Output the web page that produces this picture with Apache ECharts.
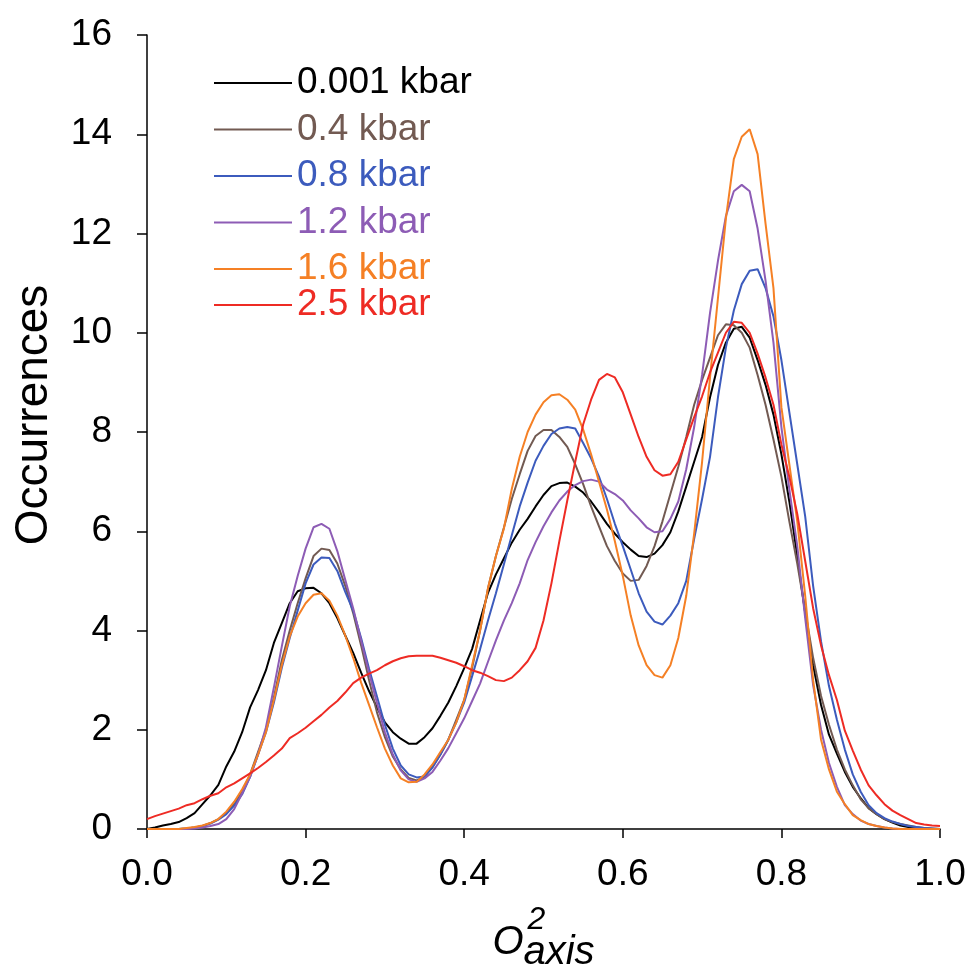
<!DOCTYPE html>
<html>
<head>
<meta charset="utf-8">
<script src="https://cdn.jsdelivr.net/npm/echarts@6/dist/echarts.min.js"></script>
<style>
  html, body { margin: 0; padding: 0; background: #ffffff; }
  #chart { width: 975px; height: 974px; }
</style>
</head>
<body>
<div id="chart"></div>
<script>
// bin positions (O_axis^2)
const xs = [
  0.00, 0.01, 0.02, 0.03, 0.04, 0.05, 0.06, 0.07, 0.08, 0.09,
  0.10, 0.11, 0.12, 0.13, 0.14, 0.15, 0.16, 0.17, 0.18, 0.19,
  0.20, 0.21, 0.22, 0.23, 0.24, 0.25, 0.26, 0.27, 0.28, 0.29,
  0.30, 0.31, 0.32, 0.33, 0.34, 0.35, 0.36, 0.37, 0.38, 0.39,
  0.40, 0.41, 0.42, 0.43, 0.44, 0.45, 0.46, 0.47, 0.48, 0.49,
  0.50, 0.51, 0.52, 0.53, 0.54, 0.55, 0.56, 0.57, 0.58, 0.59,
  0.60, 0.61, 0.62, 0.63, 0.64, 0.65, 0.66, 0.67, 0.68, 0.69,
  0.70, 0.71, 0.72, 0.73, 0.74, 0.75, 0.76, 0.77, 0.78, 0.79,
  0.80, 0.81, 0.82, 0.83, 0.84, 0.85, 0.86, 0.87, 0.88, 0.89,
  0.90, 0.91, 0.92, 0.93, 0.94, 0.95, 0.96, 0.97, 0.98, 0.99,
  1.00
];

// occurrences per pressure
const p0001 = [
  0, 0.03, 0.07, 0.1, 0.14, 0.22, 0.32, 0.5, 0.68, 0.89,
  1.26, 1.56, 1.95, 2.45, 2.8, 3.2, 3.75, 4.15, 4.55, 4.79,
  4.85, 4.86, 4.75, 4.55, 4.25, 3.9, 3.55, 3.15, 2.78, 2.45,
  2.15, 1.95, 1.82, 1.72, 1.72, 1.85, 2.03, 2.28, 2.55, 2.88,
  3.24, 3.63, 4.2, 4.76, 5.13, 5.45, 5.77, 6.03, 6.25, 6.5,
  6.73, 6.91, 6.97, 6.98, 6.9, 6.78, 6.6, 6.38, 6.15, 5.95,
  5.78, 5.63, 5.5, 5.48, 5.55, 5.72, 5.98, 6.4, 6.9, 7.4,
  7.9, 8.7, 9.35, 9.8, 10.08, 10.12, 9.9, 9.45, 8.95, 8.35,
  7.55, 6.6, 5.5, 4.35, 3.3, 2.5, 1.9, 1.52, 1.15, 0.85,
  0.62, 0.42, 0.3, 0.2, 0.13, 0.07, 0.04, 0.02, 0.01, 0,
  0
];
const p04 = [
  0, 0, 0, 0, 0, 0.01, 0.03, 0.06, 0.12, 0.2,
  0.32, 0.5, 0.75, 1.1, 1.55, 2.0, 2.65, 3.4, 4.0, 4.55,
  5.05, 5.5, 5.65, 5.62, 5.35, 4.9, 4.35, 3.7, 3.0, 2.35,
  1.85, 1.46, 1.2, 1.03, 0.98, 1.05, 1.25, 1.5, 1.8, 2.2,
  2.6, 3.25, 4.0, 4.85, 5.5, 6.07, 6.65, 7.15, 7.62, 7.92,
  8.04, 8.04, 7.9, 7.7, 7.35, 6.95, 6.5, 6.1, 5.7, 5.4,
  5.15, 5.0, 5.02, 5.3, 5.7, 6.2, 6.75, 7.3, 7.9, 8.55,
  9.05, 9.5, 9.95, 10.17, 10.15, 10.0, 9.7, 9.15, 8.55, 7.85,
  7.1, 6.2, 5.35, 4.4, 3.45, 2.68, 2.1, 1.6, 1.2, 0.88,
  0.6, 0.42, 0.3, 0.2, 0.14, 0.1, 0.07, 0.04, 0.02, 0.01,
  0
];
const p08 = [
  0, 0, 0, 0, 0, 0.01, 0.03, 0.06, 0.11, 0.19,
  0.3, 0.47, 0.7, 1.05, 1.5, 1.95, 2.55, 3.25, 3.85, 4.4,
  4.95, 5.33, 5.47, 5.46, 5.2, 4.78, 4.4, 3.85, 3.23, 2.67,
  2.1, 1.62, 1.28, 1.1, 1.04, 1.06, 1.24, 1.5, 1.8, 2.15,
  2.55, 3.08, 3.62, 4.2, 4.75, 5.33, 5.92, 6.5, 6.98, 7.42,
  7.72, 7.96, 8.07, 8.1, 8.07, 7.78, 7.47, 7.1, 6.65, 6.15,
  5.7, 5.23, 4.75, 4.38, 4.18, 4.12, 4.3, 4.55, 5.0, 5.85,
  6.65, 7.5, 8.7, 9.7, 10.45, 10.98, 11.25, 11.28, 10.9, 10.33,
  9.45, 8.4, 7.35, 6.3, 4.9, 3.78, 2.88, 2.2, 1.6, 1.1,
  0.75, 0.48, 0.32, 0.22, 0.15, 0.1, 0.06, 0.04, 0.02, 0.01,
  0
];
const p12 = [
  0, 0, 0, 0, 0, 0, 0.01, 0.03, 0.06, 0.1,
  0.2, 0.4, 0.72, 1.05, 1.5, 2.05, 2.85, 3.68, 4.49, 5.1,
  5.65, 6.08, 6.15, 6.05, 5.6, 5.02, 4.45, 3.8, 3.15, 2.54,
  1.95, 1.5, 1.18, 1.0, 0.95, 1.02, 1.15, 1.38, 1.63, 1.93,
  2.23, 2.58, 2.93, 3.37, 3.8, 4.2, 4.55, 4.95, 5.42, 5.78,
  6.1, 6.38, 6.62, 6.8, 6.93, 7.01, 7.04, 7.0, 6.84, 6.75,
  6.62, 6.42, 6.26, 6.08, 5.98, 6.0, 6.25, 6.6, 7.25, 8.1,
  9.15, 10.4, 11.45, 12.35, 12.85, 12.98, 12.85, 12.1, 11.05, 9.8,
  8.1, 6.85, 5.7, 4.25, 2.9, 2.0, 1.33, 0.85, 0.48, 0.3,
  0.17, 0.1, 0.06, 0.03, 0.01, 0, 0, 0, 0, 0,
  0
];
const p16 = [
  0, 0, 0, 0, 0, 0.02, 0.04, 0.07, 0.12, 0.2,
  0.35, 0.55, 0.8, 1.1, 1.5, 1.95, 2.6, 3.3, 3.88, 4.28,
  4.55, 4.72, 4.75, 4.6, 4.3, 3.9, 3.45, 2.95, 2.5, 2.05,
  1.62, 1.28, 1.02, 0.94, 0.95, 1.1, 1.3, 1.55, 1.8, 2.15,
  2.6, 3.3, 4.0, 4.85, 5.5, 6.05, 6.85, 7.5, 8.0, 8.35,
  8.6, 8.74, 8.76, 8.65, 8.45, 8.05, 7.55, 7.0, 6.44, 5.8,
  5.1, 4.3, 3.7, 3.3, 3.1, 3.05, 3.3, 3.85, 4.7, 5.95,
  7.4, 9.1, 10.7, 12.3, 13.5, 13.95, 14.1, 13.6, 12.2, 10.9,
  8.5, 7.35, 6.2, 4.7, 3.0, 1.8, 1.2, 0.75, 0.5, 0.28,
  0.18, 0.1, 0.06, 0.03, 0.01, 0, 0, 0, 0, 0,
  0
];
const p25 = [
  0.2, 0.26, 0.31, 0.36, 0.41, 0.48, 0.52, 0.6, 0.67, 0.72,
  0.84, 0.92, 1.02, 1.12, 1.23, 1.35, 1.48, 1.62, 1.83, 1.93,
  2.04, 2.17, 2.3, 2.45, 2.58, 2.75, 2.94, 3.05, 3.13, 3.2,
  3.3, 3.38, 3.44, 3.48, 3.49, 3.49, 3.49, 3.45, 3.4, 3.35,
  3.28, 3.2, 3.15, 3.08, 3.0, 2.98, 3.05, 3.2, 3.38, 3.65,
  4.2, 4.95, 5.8, 6.62, 7.4, 8.15, 8.65, 9.05, 9.17, 9.1,
  8.8, 8.35, 7.9, 7.5, 7.23, 7.12, 7.15, 7.4, 7.85, 8.3,
  8.72, 9.2, 9.6, 10.0, 10.22, 10.2, 10.0, 9.58, 9.1, 8.55,
  7.75, 7.1, 6.35, 5.4, 4.45, 3.7, 3.1, 2.6, 1.98, 1.58,
  1.2, 0.88, 0.68, 0.5, 0.37, 0.28, 0.2, 0.12, 0.09, 0.07,
  0.06
];

const seriesNames = ["0.001 kbar", "0.4 kbar", "0.8 kbar", "1.2 kbar", "1.6 kbar", "2.5 kbar"];
const seriesColors = ["#000000", "#725a52", "#3c5bbd", "#8d5cb5", "#f58025", "#ee2b24"];
const seriesValues = [p0001, p04, p08, p12, p16, p25];

const yTicks = { min: 0, max: 16, interval: 2 };
const xTicks = { min: 0, max: 1, interval: 0.2 };

const chart = echarts.init(document.getElementById("chart"), null, { renderer: "canvas" });

const fontFamily = "'Liberation Sans', Arial, sans-serif";

const legendItem = (i) => ({
  name: seriesNames[i],
  textStyle: { color: seriesColors[i] }
});

// shared legend look: a plain coloured line followed by coloured text
const legendBase = {
  orient: "vertical",
  left: 214,
  padding: 0,
  icon: "rect",
  itemWidth: 78,
  itemHeight: 2,
  itemGap: 6.5,
  textStyle: { fontSize: 37, lineHeight: 40, fontFamily: fontFamily },
  selectedMode: false
};

const option = {
  animation: false,
  backgroundColor: "#ffffff",
  textStyle: { fontFamily: fontFamily },
  grid: {
    left: 147,
    right: 35,
    top: 35,
    bottom: 145,
    containLabel: false,
    outerBoundsMode: "none"
  },
  legend: [
    Object.assign({}, legendBase, { top: 63, data: [0, 1, 2, 3, 4].map(legendItem) }),
    Object.assign({}, legendBase, { top: 285, data: [legendItem(5)] })
  ],
  xAxis: {
    type: "value",
    min: xTicks.min,
    max: xTicks.max,
    interval: xTicks.interval,
    splitLine: { show: false },
    axisLine: { lineStyle: { color: "#000", width: 1.5 } },
    axisTick: { show: true, length: 9, lineStyle: { color: "#000", width: 1.5 } },
    axisLabel: {
      color: "#000",
      fontSize: 37,
      lineHeight: 37,
      margin: 27,
      formatter: (v) => v.toFixed(1)
    },
    // O_axis^2 : superscript on the first line, O + subscript on the second
    name: "{pad| }{sup|2}\n{o|O}{sub|axis}",
    nameLocation: "middle",
    nameGap: 76,
    nameTextStyle: {
      color: "#000",
      fontSize: 32,
      rich: {
        pad: { width: 35, lineHeight: 30, fontSize: 32, align: "left" },
        sup: { fontSize: 32, fontStyle: "italic", lineHeight: 30, align: "left", color: "#000" },
        o: { fontSize: 40, fontStyle: "italic", lineHeight: 16, padding: [0, 0, 20, 0], align: "left", color: "#000" },
        sub: { fontSize: 40, fontStyle: "italic", lineHeight: 36, align: "left", color: "#000" }
      }
    }
  },
  yAxis: {
    type: "value",
    min: yTicks.min,
    max: yTicks.max,
    interval: yTicks.interval,
    splitLine: { show: false },
    axisLine: { show: true, lineStyle: { color: "#000", width: 1.5 } },
    axisTick: { show: true, length: 10, lineStyle: { color: "#000", width: 1.5 } },
    axisLabel: { color: "#000", fontSize: 37, margin: 35 },
    name: "Occurrences",
    nameLocation: "middle",
    nameGap: 90,
    nameTextStyle: { color: "#000", fontSize: 46, padding: [0, 0, 0, 34] }
  },
  series: seriesValues.map((vals, i) => ({
    name: seriesNames[i],
    type: "line",
    symbol: "none",
    showSymbol: false,
    smooth: false,
    data: xs.map((x, k) => [x, vals[k]]),
    lineStyle: { color: seriesColors[i], width: 2 },
    itemStyle: { color: seriesColors[i] },
    emphasis: { disabled: true }
  }))
};

chart.setOption(option);
</script>
</body>
</html>
